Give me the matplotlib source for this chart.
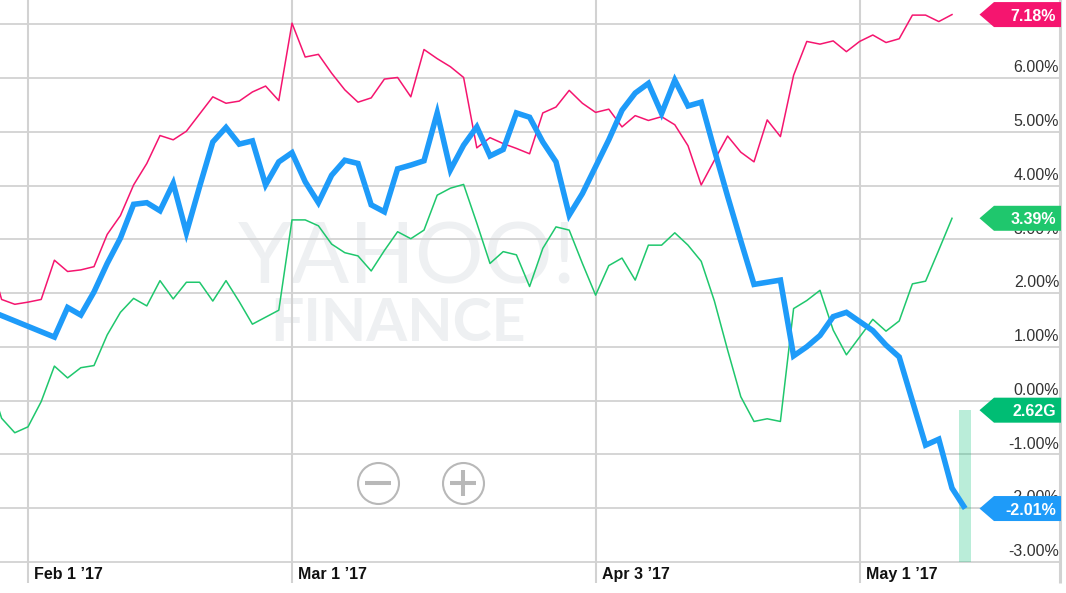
import matplotlib.pyplot as plt

plt.rcParams["font.family"] = ["Liberation Sans", "DejaVu Sans"]

# Percent change per trading day
# (first value of each series is the point just left of the visible window)
pink = [2.75, 1.88, 1.79, 1.83, 1.88, 2.61, 2.40, 2.43, 2.49, 3.09, 3.44, 4.01, 4.41, 4.93, 4.85, 5.01, 5.33,
        5.65, 5.53, 5.57, 5.74, 5.85, 5.58, 7.02, 6.39, 6.44, 6.09, 5.78, 5.55, 5.63, 5.98, 6.01, 5.65,
        6.53, 6.36, 6.21, 6.01, 4.70, 4.89, 4.78, 4.69, 4.59, 5.35, 5.46, 5.77, 5.53, 5.36, 5.42, 5.09,
        5.30, 5.21, 5.28, 5.13, 4.74, 4.01, 4.47, 4.92, 4.62, 4.44, 5.22, 4.91, 6.05, 6.68, 6.63, 6.69,
        6.49, 6.68, 6.80, 6.66, 6.73, 7.17, 7.17, 7.05, 7.18]
green = [0.45, -0.33, -0.60, -0.49, -0.02, 0.64, 0.42, 0.61, 0.65, 1.22, 1.64, 1.90, 1.76, 2.23, 1.89, 2.20, 2.20,
         1.85, 2.23, 1.84, 1.42, 1.55, 1.68, 3.36, 3.36, 3.25, 2.91, 2.75, 2.69, 2.41, 2.79, 3.14, 3.01,
         3.17, 3.82, 3.95, 4.02, 3.30, 2.55, 2.77, 2.71, 2.12, 2.83, 3.23, 3.17, 2.55, 1.96, 2.51, 2.65,
         2.24, 2.89, 2.89, 3.12, 2.89, 2.59, 1.85, 0.94, 0.07, -0.39, -0.34, -0.39, 1.71, 1.86, 2.05, 1.31,
         0.85, 1.18, 1.51, 1.29, 1.48, 2.17, 2.22, 2.80, 3.39]
blue = [1.68, 1.58, 1.48, 1.38, 1.28, 1.18, 1.73, 1.59, 2.02, 2.55, 3.02, 3.65, 3.68, 3.53, 4.04, 3.12, 3.98,
        4.81, 5.08, 4.77, 4.83, 4.01, 4.44, 4.61, 4.07, 3.68, 4.19, 4.47, 4.41, 3.64, 3.51, 4.31, 4.38,
        4.46, 5.35, 4.29, 4.75, 5.09, 4.55, 4.67, 5.35, 5.27, 4.81, 4.44, 3.45, 3.85, 4.35, 4.85, 5.40,
        5.72, 5.90, 5.34, 5.96, 5.48, 5.55, 4.66, 3.80, 2.97, 2.16, 2.20, 2.24, 0.83, 1.00, 1.21, 1.56,
        1.64, 1.47, 1.30, 1.03, 0.81, -0.01, -0.83, -0.72, -1.63, -2.01]

grid_values = [7, 6, 5, 4, 3, 2, 1, 0, -1, -2, -3]
tick_values = [6, 5, 4, 3, 2, 1, 0, -1, -2, -3]
tick_labels = ["6.00%", "5.00%", "4.00%", "3.00%", "2.00%", "1.00%", "0.00%", "-1.00%", "-2.00%", "-3.00%"]
date_index = [2, 22, 45, 65]
date_labels = ["Feb 1 \u201917", "Mar 1 \u201917", "Apr 3 \u201917", "May 1 \u201917"]

volume_index = 73
volume_top = -0.18
flag_values = [7.18, 3.39, -0.18, -2.01]
flag_labels = ["7.18%", "3.39%", "2.62G", "-2.01%"]
flag_colors = ["#f5156f", "#1fc76d", "#00bd74", "#1e9bf9"]

PINK = "#f5156f"
GREEN = "#1fc76d"
BLUE = "#1e9bf9"
GRID = "#d2d2d2"

# one pixel in data units
PX = 1 / 13.2
PY = 1 / 53.75
RIGHT = (1060 - 1.6) * PX
BOTTOM_END = (400.5 - 583) * PY

fig = plt.figure(figsize=(10.66, 5.93), dpi=100)
ax = fig.add_axes([0, 0, 1, 1])
ax.set_xlim(-1.6 * PX, (1066 - 1.6) * PX)
ax.set_ylim((400.5 - 593) * PY, 400.5 * PY)
ax.axis("off")

# watermark
ax.text(238 / 1066, 1 - 284 / 593, "YAHOO!", transform=ax.transAxes, fontsize=62, color="#eef0f2",
        family="Lato", ha="left", va="baseline", zorder=1)
ax.text(270 / 1066, 1 - 341 / 593, "FINANCE", transform=ax.transAxes, fontsize=42.5, color="#eef0f2",
        family="Lato", fontweight="bold", ha="left", va="baseline", zorder=1)

# grid
ax.hlines(grid_values, -1, RIGHT, color=GRID, lw=1.3, zorder=2)
ax.vlines(date_index, BOTTOM_END, 10, color=GRID, lw=1.5, zorder=2)
ax.vlines(RIGHT, BOTTOM_END, 10, color=GRID, lw=2.2, zorder=2)

for v, label in zip(tick_values, tick_labels):
    ax.annotate(label, (RIGHT, v), xytext=(-0.6, 4), textcoords="offset points", ha="right", va="baseline",
                fontsize=11.5, color="#333333", zorder=3)
for i, label in zip(date_index, date_labels):
    ax.annotate(label, (i, -3), xytext=(4.3, -12.5), textcoords="offset points", ha="left", va="baseline",
                fontsize=11.5, fontweight="bold", color="#111111", zorder=3)

# volume bar
ax.bar(volume_index, volume_top - (-3), bottom=-3, width=12.4 * PX, color="#00bd74", alpha=0.27, zorder=4)

# series
ax.plot(range(-1, len(green) - 1), green, color=GREEN, lw=1.1, zorder=5)
ax.plot(range(-1, len(pink) - 1), pink, color=PINK, lw=1.1, zorder=5)
ax.plot(range(-1, len(blue) - 1), blue, color=BLUE, lw=4.0, solid_joinstyle="miter", solid_capstyle="butt", zorder=6)

# value flags on the right
for v, label, color in zip(flag_values, flag_labels, flag_colors):
    xs = [(979.5 - 1.6) * PX, (994 - 1.6) * PX, RIGHT + PX, RIGHT + PX, (994 - 1.6) * PX]
    ys = [v, v + 12.5 * PY, v + 12.5 * PY, v - 12.5 * PY, v - 12.5 * PY]
    ax.fill(xs, ys, color=color, lw=0, zorder=7)
    ax.annotate(label, (RIGHT, v), xytext=(-2.8, 0), textcoords="offset points", ha="right", va="center_baseline",
                fontsize=11.5, fontweight="bold", color="white", zorder=8)

# zoom buttons
for x in [377.7 / 1066, 463 / 1066]:
    ax.plot(x, 1 - 482.7 / 593, "o", ms=29.5, mfc="white", mec="#b8b8b8", mew=1.5, transform=ax.transAxes, zorder=3)
ax.plot(377.7 / 1066, 1 - 482.7 / 593, "_", ms=18.7, mec="#b8b8b8", mew=2.9, transform=ax.transAxes, zorder=4)
ax.plot(463 / 1066, 1 - 482.7 / 593, "+", ms=18.7, mec="#b8b8b8", mew=2.9, transform=ax.transAxes, zorder=4)

fig.savefig("out.png", dpi=100)
